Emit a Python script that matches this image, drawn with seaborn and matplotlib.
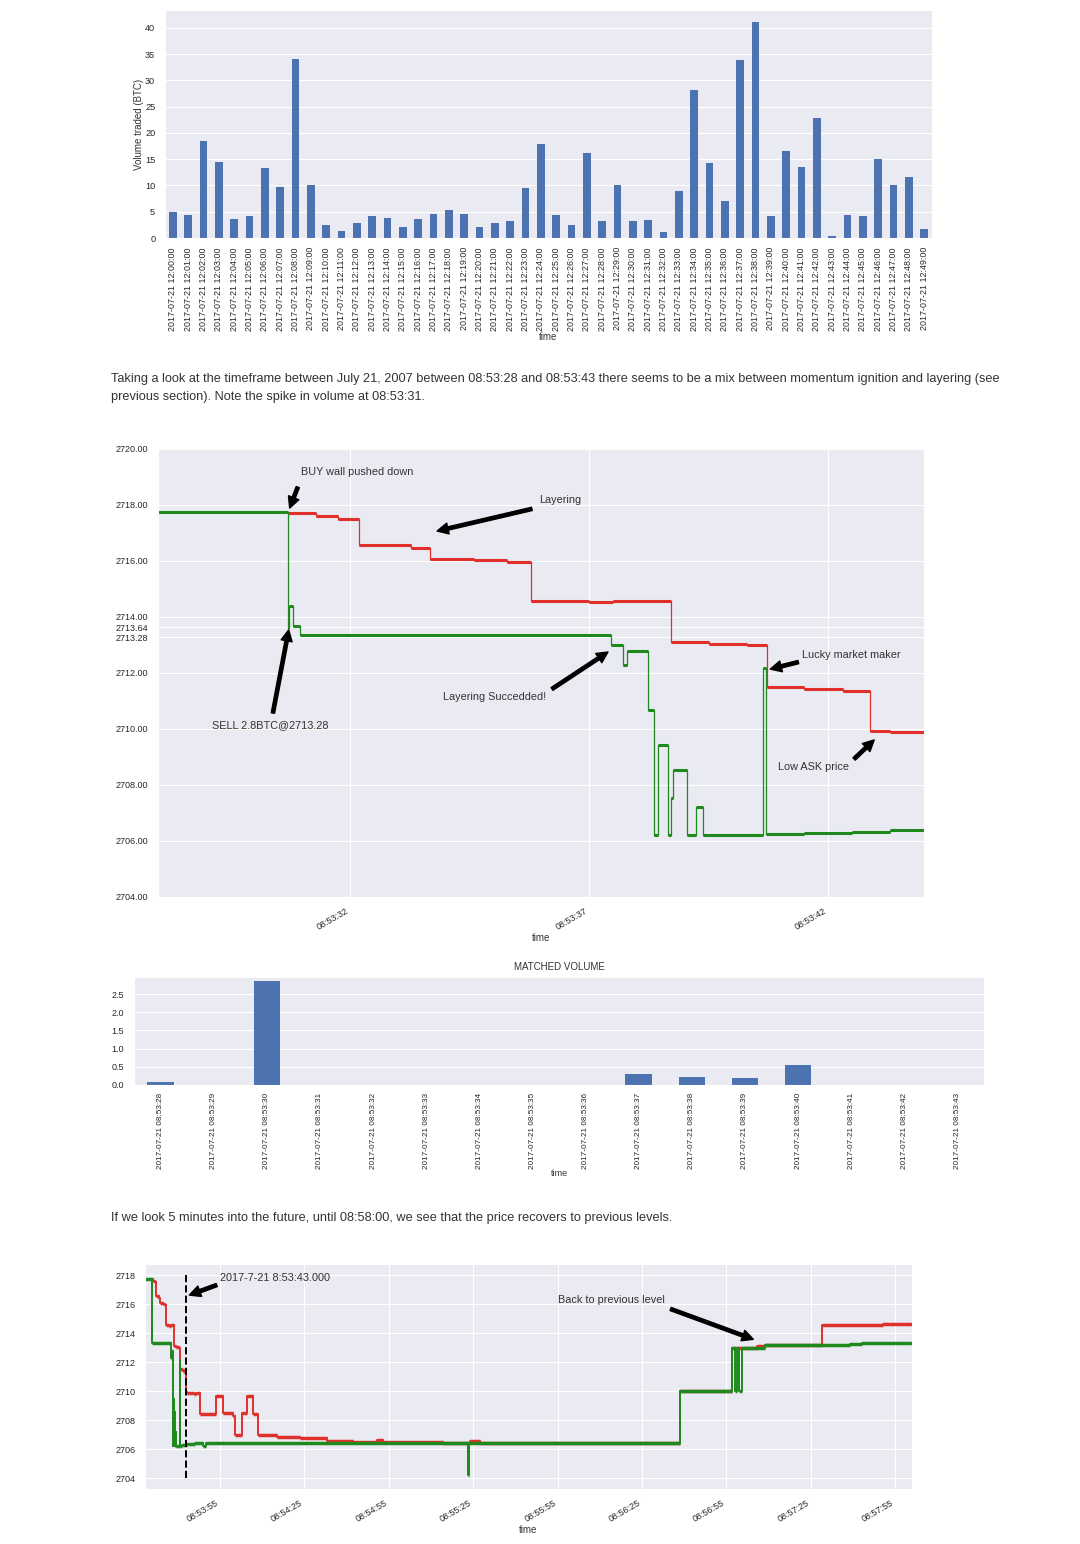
import numpy as np
import pandas as pd
import matplotlib
matplotlib.use('Agg')
import matplotlib.pyplot as plt
import matplotlib.ticker as mticker
import seaborn as sns

sns.set_style('darkgrid')
plt.rcParams['font.family'] = ['Liberation Sans', 'DejaVu Sans']
plt.rcParams['text.color'] = '#333333'
plt.rcParams['axes.labelcolor'] = '#333333'

# ── 資料 ─────────────────────────────────────────────────────
BASE = pd.Timestamp('2017-07-21 08:53:28')
BLUE, RED, GREEN = '#4c72b0', '#e0302c', '#1e8a1e'

minute_labels = [f'2017-07-21 12:{m:02d}:00' for m in range(50)]
volume_btc = [5.0, 4.3, 18.5, 14.5, 3.6, 4.1, 13.4, 9.7, 34.1, 10.1,
              2.4, 1.3, 2.9, 4.1, 3.8, 2.0, 3.6, 4.5, 5.4, 4.5,
              2.0, 2.9, 3.2, 9.5, 17.8, 4.3, 2.4, 16.1, 3.3, 10.1,
              3.3, 3.4, 1.1, 8.9, 28.1, 14.3, 7.1, 33.8, 41.1, 4.1,
              16.5, 13.6, 22.9, 0.45, 4.3, 4.1, 15.0, 10.1, 11.7, 1.7]

second_labels = [f'2017-07-21 08:53:{s:02d}' for s in range(28, 44)]
matched_volume = [0.09, 0, 2.85, 0, 0, 0, 0, 0, 0, 0.29, 0.22, 0.19, 0.54, 0, 0, 0]

# 秒數（自 08:53:28 起）與價格
ask_sec = [2.71, 3.3, 3.75, 4.19, 5.29, 5.69, 6.6, 7.3, 7.79, 9.0, 9.5, 10.71,
           11.5, 12.3, 12.73, 13.5, 14.3, 14.87, 15.3, 16.0]
ask_px = [2717.72, 2717.62, 2717.50, 2716.57, 2716.45, 2716.07, 2716.03, 2715.96,
          2714.57, 2714.52, 2714.57, 2713.10, 2713.05, 2713.00, 2711.50, 2711.44,
          2711.35, 2709.93, 2709.88, 2709.86]
bid_sec = [0, 2.71, 2.73, 2.83, 2.96, 9.47, 9.71, 9.79, 10.23, 10.35, 10.44, 10.65,
           10.71, 10.75, 11.04, 11.23, 11.38, 12.63, 12.69, 13.5, 14.5, 15.3, 16.0]
bid_px = [2717.75, 2713.60, 2714.40, 2713.67, 2713.35, 2713.00, 2712.30, 2712.78,
          2710.68, 2706.20, 2709.43, 2706.20, 2707.54, 2708.54, 2706.20, 2707.20,
          2706.22, 2712.18, 2706.25, 2706.28, 2706.32, 2706.38, 2706.38]

# 之後五分鐘
ask_ext_sec = [17.6, 18.6, 19.9, 25.5, 28.2, 31.7, 32.3, 34.7, 36.7, 38.6, 40.4,
               47.2, 55.4, 64.9, 74.4, 82.7, 85.1, 106.4, 115.9, 119.4, 190.5,
               208.9, 217.8, 220.7, 240.9, 262.8, 273.0]
ask_ext_px = [2709.80, 2709.86, 2708.40, 2709.65, 2708.50, 2708.30, 2706.95, 2708.50,
              2709.65, 2708.40, 2706.95, 2706.85, 2706.75, 2706.60, 2706.50, 2706.62,
              2706.52, 2706.45, 2706.58, 2706.45, 2710.00, 2713.00, 2713.10, 2713.18,
              2714.55, 2714.60, 2714.60]
bid_ext_sec = [18.1, 20.96, 22.0, 115.3, 115.6, 190.5, 208.9, 210.1, 210.8, 211.6,
               212.5, 220.7, 251.0, 255.1, 273.0]
bid_ext_px = [2706.45, 2706.20, 2706.45, 2704.20, 2706.45, 2710.00, 2713.00, 2710.00,
              2713.00, 2710.00, 2713.00, 2713.20, 2713.25, 2713.30, 2713.30]

event_sec = 15.0

para1 = ('Taking a look at the timeframe between July 21, 2007 between 08:53:28 and 08:53:43 '
         'there seems to be a mix between momentum ignition and layering (see')
para1b = 'previous section). Note the spike in volume at 08:53:31.'
para2 = ('If we look 5 minutes into the future, until 08:58:00, we see that the price '
         'recovers to previous levels.')


def fmt_sec(s, pos=None):
    return (BASE + pd.Timedelta(seconds=float(s))).strftime('%H:%M:%S')


def step_line(ax, t, p, color, lw_v, lw_h):
    t = np.asarray(t, float)
    p = np.asarray(p, float)
    sns.lineplot(x=t, y=p, ax=ax, color=color, lw=lw_v, drawstyle='steps-post',
                 estimator=None, sort=False, errorbar=None)
    ax.hlines(p[:-1], t[:-1], t[1:], color=color, lw=lw_h)


def arrow(ax, tail, head):
    ax.annotate('', xy=head, xytext=tail,
                arrowprops=dict(facecolor='black', edgecolor='black',
                                width=2.4, headwidth=8, headlength=8, shrink=0))


W, H = 1080, 1544
fig = plt.figure(figsize=(W / 100, H / 100), dpi=100)
fig.patch.set_facecolor('white')


def box(l, t, r, b):
    return [l / W, 1 - b / H, (r - l) / W, (b - t) / H]


# ================================================================
# 圖1：每分鐘成交量
# ================================================================
ax1 = fig.add_axes(box(165, 10, 932, 238))
sns.barplot(x=minute_labels, y=volume_btc, ax=ax1, color=BLUE, width=0.5,
            saturation=1, linewidth=0)
ax1.set_ylim(0, 43.4)
ax1.set_yticks(range(0, 41, 5))
ax1.tick_params(axis='x', rotation=90, labelsize=6.4, pad=3)
ax1.tick_params(axis='y', labelsize=6.6)
ax1.set_ylabel('Volume traded (BTC)', fontsize=7, labelpad=1)
ax1.set_xlabel('time', fontsize=7, labelpad=1)

fig.text(111 / W, 1 - 379 / H, para1, fontsize=9.2, va='center')
fig.text(111 / W, 1 - 397 / H, para1b, fontsize=9.2, va='center')

# ================================================================
# 圖2：08:53:28 ~ 08:53:44 買賣價
# ================================================================
ax2 = fig.add_axes(box(158, 449, 924, 897))
step_line(ax2, ask_sec, ask_px, RED, 0.9, 2.2)
step_line(ax2, bid_sec, bid_px, GREEN, 0.9, 2.2)
ax2.set_xlim(0, 16)
ax2.set_ylim(2704, 2720)
ax2.set_yticks([2704, 2706, 2708, 2710, 2712, 2713.28, 2713.64, 2714, 2716, 2718, 2720])
ax2.yaxis.set_major_formatter(mticker.FormatStrFormatter('%.2f'))
ax2.set_xticks(np.arange(4, 16, 5))
ax2.xaxis.set_major_formatter(mticker.FuncFormatter(fmt_sec))
ax2.tick_params(labelsize=6.5)
for lab in ax2.get_xticklabels():
    lab.set_rotation(30)
    lab.set_ha('right')
ax2.set_xlabel('time', fontsize=7, labelpad=1)
ax2.set_ylabel('')

fs = 7.8
ax2.text(2.98, 2719.18, 'BUY wall pushed down', fontsize=fs, va='center')
arrow(ax2, (2.92, 2718.64), (2.75, 2717.89))
ax2.text(7.96, 2718.18, 'Layering', fontsize=fs, va='center')
arrow(ax2, (7.81, 2717.86), (5.83, 2717.07))
ax2.text(1.125, 2710.14, 'SELL 2.8BTC@2713.28', fontsize=fs, va='center')
arrow(ax2, (2.40, 2710.57), (2.73, 2713.54))
ax2.text(5.96, 2711.14, 'Layering Succedded!', fontsize=fs, va='center')
arrow(ax2, (8.23, 2711.43), (9.40, 2712.75))
ax2.text(13.46, 2712.64, 'Lucky market maker', fontsize=fs, va='center')
arrow(ax2, (13.375, 2712.39), (12.79, 2712.14))
ax2.text(12.96, 2708.64, 'Low ASK price', fontsize=fs, va='center')
arrow(ax2, (14.54, 2708.93), (14.96, 2709.61))

# ================================================================
# 圖3：每秒成交量
# ================================================================
ax3 = fig.add_axes(box(134, 977, 984, 1085))
sns.barplot(x=second_labels, y=matched_volume, ax=ax3, color=BLUE, width=0.5,
            saturation=1, linewidth=0)
ax3.set_ylim(0, 2.97)
ax3.set_yticks(np.arange(0, 2.6, 0.5))
ax3.yaxis.set_major_formatter(mticker.FormatStrFormatter('%.1f'))
ax3.tick_params(axis='x', rotation=90, labelsize=5.9, pad=2)
ax3.tick_params(axis='y', labelsize=6.5)
ax3.set_title('MATCHED VOLUME', fontsize=7, pad=5)
ax3.set_xlabel('time', fontsize=6.5, labelpad=0)
ax3.set_ylabel('')

fig.text(111 / W, 1 - 1218 / H, para2, fontsize=9.2, va='center')

# ================================================================
# 圖4：之後五分鐘
# ================================================================
ax4 = fig.add_axes(box(145, 1264, 912, 1489))
step_line(ax4, ask_sec + ask_ext_sec, ask_px + ask_ext_px, RED, 1.4, 2.5)
step_line(ax4, bid_sec + bid_ext_sec, bid_px + bid_ext_px, GREEN, 1.4, 2.5)
ax4.vlines(event_sec, 2704, 2718, colors='black', linestyles='--', lw=1.4)
ax4.set_xlim(0.34, 273)
ax4.set_ylim(2703.26, 2718.76)
ax4.set_yticks(range(2704, 2719, 2))
ax4.set_xticks(np.arange(27, 273, 30))
ax4.xaxis.set_major_formatter(mticker.FuncFormatter(fmt_sec))
ax4.tick_params(labelsize=6.5)
for lab in ax4.get_xticklabels():
    lab.set_rotation(30)
    lab.set_ha('right')
ax4.set_xlabel('time', fontsize=7, labelpad=1)
ax4.set_ylabel('')
ax4.text(27.0, 2717.79, '2017-7-21 8:53:43.000', fontsize=7.8, va='center')
arrow(ax4, (25.83, 2717.31), (16.09, 2716.62))
ax4.text(147.05, 2716.28, 'Back to previous level', fontsize=7.8, va='center')
arrow(ax4, (187.2, 2715.66), (216.6, 2713.57))

fig.savefig('out.png', dpi=100, facecolor='white')
plt.close()
